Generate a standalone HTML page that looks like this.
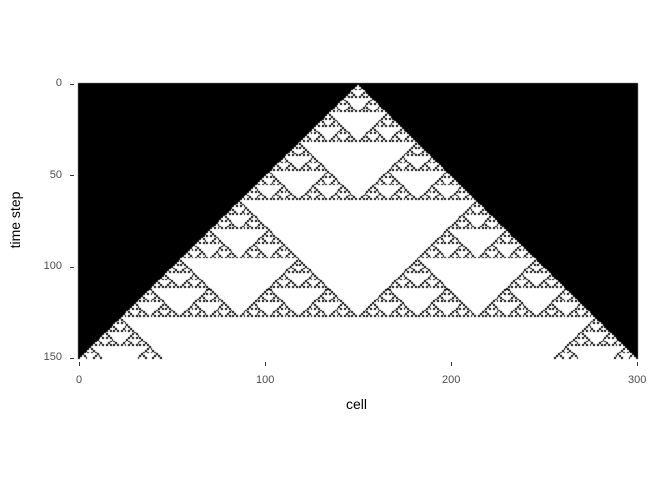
<!DOCTYPE html>
<html><head><meta charset="utf-8"><style>
body{margin:0;background:#fff;width:672px;height:480px;overflow:hidden;position:relative;font-family:"Liberation Sans",sans-serif}
canvas{position:absolute;left:0;top:0}
.t{position:absolute;font-size:11px;color:#4d4d4d}
.tk{position:absolute;background:#333}
</style></head><body>
<canvas id="c" width="672" height="480"></canvas>
<div class="t" style="right:610px;top:77px">0</div>
<div class="t" style="right:610px;top:169px">50</div>
<div class="t" style="right:610px;top:260px">100</div>
<div class="t" style="right:610px;top:351px">150</div>
<div class="tk" style="left:70px;top:84px;width:4px;height:1px"></div>
<div class="tk" style="left:70px;top:175px;width:4px;height:1px"></div>
<div class="tk" style="left:70px;top:267px;width:4px;height:1px"></div>
<div class="tk" style="left:70px;top:358px;width:4px;height:1px"></div>
<div class="tk" style="left:79px;top:362px;width:1px;height:4px"></div>
<div class="tk" style="left:265px;top:362px;width:1px;height:4px"></div>
<div class="tk" style="left:451px;top:362px;width:1px;height:4px"></div>
<div class="tk" style="left:637px;top:362px;width:1px;height:4px"></div>
<div class="t" style="left:76px;top:374px">0</div>
<div class="t" style="left:256px;top:374px">100</div>
<div class="t" style="left:442px;top:374px">200</div>
<div class="t" style="left:628px;top:374px">300</div>
<div style="position:absolute;left:346px;top:396px;font-size:14px">cell</div>
<div style="position:absolute;left:-15px;top:212px;font-size:14px;transform:rotate(-90deg);width:60px;text-align:center">time step</div>
<script>
const nCells = 301;
const nSteps = 151;
const seedCells = [150];
const ruleNumber = 90;
const xTicks = [0,100,200,300];
const yTicks = [0,50,100,150];

const ctx = document.getElementById('c').getContext('2d');
const xs = i => 79 + i * (558 / 300);
const ys = t => 84 + t * (274 / 150);
const cw = 558 / 300, ch = 274 / 150;
let row = new Array(nCells).fill(0);
seedCells.forEach(s => row[s] = 1);
ctx.fillStyle = '#000';
for (let t = 0; t < nSteps; t++) {
  for (let i = 0; i < nCells; i++) {
    const outside = Math.abs(i - seedCells[0]) > t;
    if (row[i] || outside) {
      const x0 = Math.round(xs(i) - cw / 2), x1 = Math.round(xs(i) + cw / 2);
      const y0 = Math.round(ys(t) - ch / 2), y1 = Math.round(ys(t) + ch / 2);
      ctx.fillRect(x0, y0, x1 - x0, y1 - y0);
    }
  }
  const nr = new Array(nCells).fill(0);
  for (let i = 0; i < nCells; i++) {
    const l = i > 0 ? row[i - 1] : 0, c = row[i], r = i < nCells - 1 ? row[i + 1] : 0;
    nr[i] = (ruleNumber >> (l * 4 + c * 2 + r)) & 1;
  }
  row = nr;
}
</script>
</body></html>
